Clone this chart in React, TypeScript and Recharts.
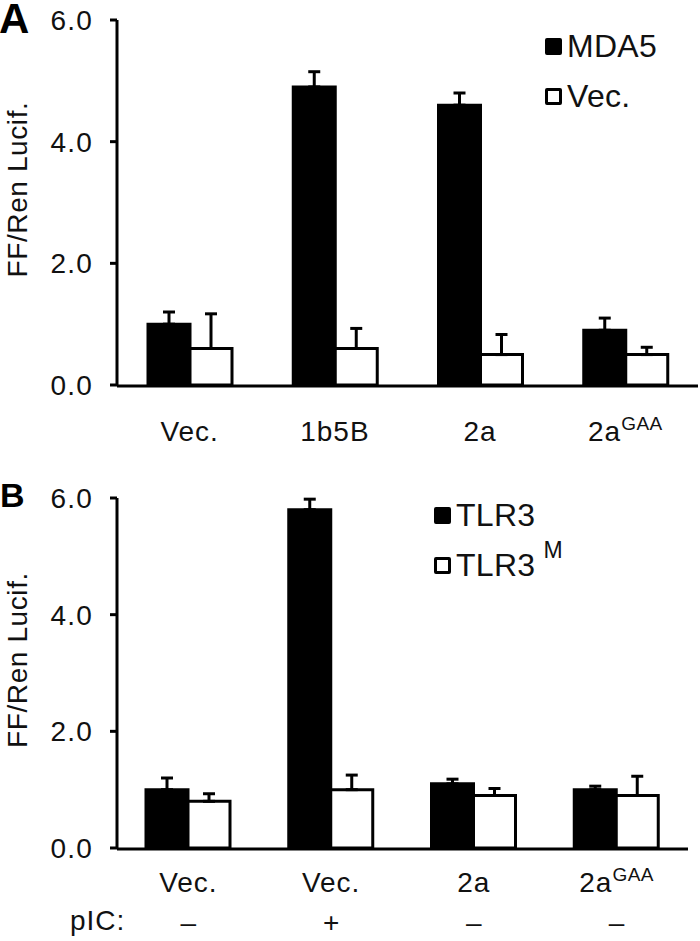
import React from 'react';
import { BarChart, Bar, XAxis, YAxis, ErrorBar, Legend } from 'recharts';

// panel A
const labelsA = ['Vec.', '1b5B', '2a', '2a'];
const supA = ['', '', '', 'GAA'];
const mda5 = [1.0, 4.9, 4.6, 0.9];
const mda5Err = [0.2, 0.25, 0.2, 0.2];
const vecA = [0.6, 0.6, 0.5, 0.5];
const vecAErr = [0.57, 0.33, 0.33, 0.12];

// panel B
const labelsB = ['Vec.', 'Vec.', '2a', '2a'];
const supB = ['', '', '', 'GAA'];
const pic = ['\u2013', '+', '\u2013', '\u2013'];
const tlr3 = [1.0, 5.8, 1.1, 1.0];
const tlr3Err = [0.2, 0.18, 0.08, 0.06];
const tlr3m = [0.8, 1.0, 0.9, 0.9];
const tlr3mErr = [0.13, 0.25, 0.12, 0.33];

const yTicks = [0, 2, 4, 6];
const gridTicks = [0, 1, 2, 3, 4];

const FONT = '"Liberation Sans", Arial, Helvetica, sans-serif';
const INK = '#111';
const FS = 28;

const dataA = labelsA.map((l, i) => ({
  label: l,
  sup: supA[i],
  a: mda5[i],
  aErr: [0, mda5Err[i]],
  b: vecA[i],
  bErr: [0, vecAErr[i]],
}));

const dataB = labelsB.map((l, i) => ({
  label: l,
  sup: supB[i],
  pic: pic[i],
  a: tlr3[i],
  aErr: [0, tlr3Err[i]],
  b: tlr3m[i],
  bErr: [0, tlr3mErr[i]],
}));

function CatTick(props: any) {
  const { x, y, index, data, dy, showPic } = props;
  const row = data[index];
  return (
    <g>
      <text x={x} y={y + dy} textAnchor="middle" fontFamily={FONT} fontSize={FS} fill={INK} letterSpacing={1}>
        <tspan>{row.label}</tspan>
        {row.sup ? (
          <tspan dy={-11} fontSize={19} letterSpacing={0.5}>
            {row.sup}
          </tspan>
        ) : null}
      </text>
      {showPic ? (
        <text x={x} y={y + dy + 40} textAnchor="middle" fontFamily={FONT} fontSize={FS} fill={INK}>
          {row.pic}
        </text>
      ) : null}
    </g>
  );
}

function YLabel(props: any) {
  const { viewBox, shift } = props;
  const cx = 17;
  const cy = viewBox.y + viewBox.height / 2 + shift;
  return (
    <text
      x={cx}
      y={cy}
      transform={`rotate(-90, ${cx}, ${cy})`}
      textAnchor="middle"
      dominantBaseline="central"
      fontFamily={FONT}
      fontSize={FS}
      fill={INK}
      letterSpacing={0.6}
    >
      FF/Ren Lucif.
    </text>
  );
}

function LegendBox(props: any) {
  const { payload, sups } = props;
  return (
    <div style={{ fontFamily: FONT, color: INK }}>
      {(payload || []).map((entry: any, i: number) => (
        <div key={i} style={{ display: 'flex', alignItems: 'center', height: 50 }}>
          <span
            style={{
              display: 'inline-block',
              width: 11,
              height: 11,
              border: '3px solid #000',
              borderRadius: 2,
              background: entry.color,
              marginRight: 5,
            }}
          />
          <span style={{ fontSize: 32, letterSpacing: 0.3 }}>{entry.value}</span>
          {sups[i] ? (
            <span style={{ fontSize: 23, position: 'relative', top: -15, marginLeft: 8 }}>{sups[i]}</span>
          ) : null}
        </div>
      ))}
    </div>
  );
}

function Panel(props: any) {
  const { data, height, margin, labelDy, showPic, names, sups, legendPos, labelShift } = props;
  return (
    <BarChart width={700} height={height} data={data} margin={margin} barGap={0}>
      <YAxis
        type="number"
        domain={[0, 6]}
        ticks={yTicks}
        interval={0}
        width={117}
        tickFormatter={(v: number) => v.toFixed(1)}
        axisLine={{ stroke: '#000', strokeWidth: 3 }}
        tickLine={{ stroke: '#000', strokeWidth: 3 }}
        tickSize={7}
        tickMargin={17}
        tick={{ fill: INK, fontSize: FS, fontFamily: FONT, letterSpacing: 1.2 }}
        label={{ content: (p: any) => <YLabel {...p} shift={labelShift} /> }}
      />
      {/* category axis: labels only, bars hang on it */}
      <XAxis
        xAxisId="cat"
        dataKey="label"
        type="category"
        height={1}
        interval={0}
        axisLine={false}
        tickLine={false}
        tickSize={0}
        tickMargin={0}
        tick={(p: any) => <CatTick {...p} data={data} dy={labelDy} showPic={showPic} />}
      />
      {/* numeric axis: baseline + ticks at the category borders */}
      <XAxis
        xAxisId="grid"
        type="number"
        domain={[0, 4]}
        allowDataOverflow
        ticks={gridTicks}
        interval={0}
        height={1}
        tick={false}
        axisLine={{ stroke: '#000', strokeWidth: 3 }}
        tickLine={{ stroke: '#000', strokeWidth: 3 }}
        tickSize={9}
      />
      <Legend
        layout="vertical"
        align="center"
        verticalAlign="middle"
        wrapperStyle={{ top: legendPos.top, left: legendPos.left, width: 220 }}
        content={(p: any) => <LegendBox {...p} sups={sups} />}
      />
      <Bar xAxisId="cat" dataKey="a" name={names[0]} fill="#000" stroke="#000" strokeWidth={3} barSize={42} isAnimationActive={false}>
        <ErrorBar dataKey="aErr" direction="y" width={6} stroke="#000" strokeWidth={3} isAnimationActive={false} />
      </Bar>
      <Bar xAxisId="cat" dataKey="b" name={names[1]} fill="#fff" stroke="#000" strokeWidth={3} barSize={42} isAnimationActive={false}>
        <ErrorBar dataKey="bErr" direction="y" width={6} stroke="#000" strokeWidth={3} isAnimationActive={false} />
      </Bar>
    </BarChart>
  );
}

export default function App() {
  return (
    <div style={{ position: 'absolute', left: 0, top: 0, width: 700, height: 941, background: '#fff', overflow: 'hidden' }}>
      <div style={{ position: 'absolute', left: 0, top: 0 }}>
        <Panel
          data={dataA}
          height={465}
          margin={{ top: 20, right: 2, bottom: 78, left: 0 }}
          labelDy={56}
          showPic={false}
          names={['MDA5', 'Vec.']}
          sups={['', '']}
          legendPos={{ top: 21, left: 545 }}
          labelShift={-13}
        />
      </div>
      <div style={{ position: 'absolute', left: 0, top: 470 }}>
        <Panel
          data={dataB}
          height={471}
          margin={{ top: 28, right: 12, bottom: 91, left: 0 }}
          labelDy={44}
          showPic={true}
          names={['TLR3', 'TLR3']}
          sups={['', 'M']}
          legendPos={{ top: 20, left: 434 }}
          labelShift={-13}
        />
      </div>
      <div style={{ position: 'absolute', left: -1, top: -2, lineHeight: 1, fontFamily: FONT, fontWeight: 700, fontSize: 42, color: '#000' }}>A</div>
      <div style={{ position: 'absolute', left: 0, top: 478, lineHeight: 1, fontFamily: FONT, fontWeight: 700, fontSize: 34, color: '#000' }}>B</div>
      <div style={{ position: 'absolute', left: 70, top: 905, fontFamily: FONT, fontSize: FS, color: INK, letterSpacing: 1 }}>pIC:</div>
    </div>
  );
}
